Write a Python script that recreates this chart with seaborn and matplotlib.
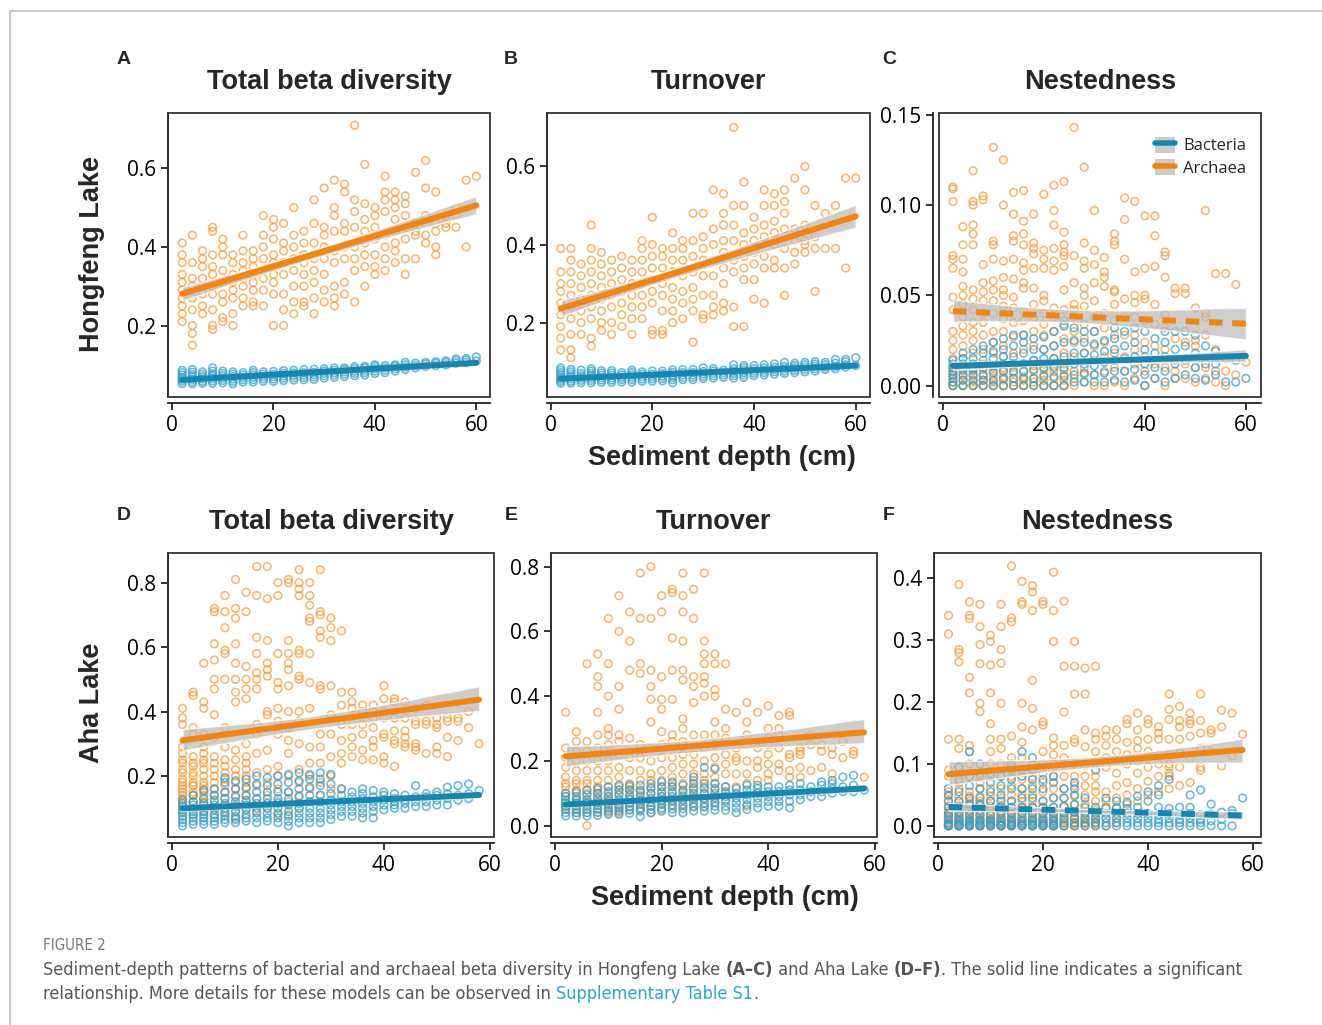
import numpy as np
import pandas as pd
import matplotlib
matplotlib.use("Agg")
import matplotlib.pyplot as plt
import seaborn as sns
from matplotlib.patches import Rectangle, Patch
from matplotlib.lines import Line2D
from matplotlib.ticker import FormatStrFormatter, FixedLocator

# ---------------- data ----------------
depth_hf = [2, 4, 6, 8, 10, 12, 14, 16, 18, 20, 22, 24, 26, 28, 30,
            32, 34, 36, 38, 40, 42, 44, 46, 48, 50, 52, 54, 56, 58, 60]
depth_aha = [2, 4, 6, 8, 10, 12, 14, 16, 18, 20, 22, 24, 26, 28, 30,
             32, 34, 36, 38, 40, 42, 44, 46, 48, 50, 52, 54, 56, 58]

# Hongfeng Lake, total beta diversity (x0.01)
hf_total_arch = [
    [21, 23, 25, 27, 29, 31, 33, 36, 38, 41], [15, 18, 20, 24, 27, 30, 32, 36, 43],
    [23, 25, 28, 30, 32, 35, 37, 39], [19, 20, 24, 28, 30, 33, 35, 38, 44, 45],
    [21, 22, 26, 28, 31, 34, 38, 40, 42], [20, 23, 27, 29, 31, 33, 36, 38],
    [25, 27, 30, 32, 34, 36, 39, 43], [25, 26, 29, 31, 33, 35, 37, 39],
    [25, 29, 32, 34, 37, 40, 43, 48], [20, 28, 31, 33, 36, 38, 42, 45, 47],
    [20, 24, 28, 33, 36, 39, 41, 46], [23, 26, 30, 34, 37, 40, 43, 50],
    [25, 26, 30, 33, 36, 38, 41, 44], [23, 27, 31, 34, 37, 41, 46, 52],
    [26, 29, 33, 37, 40, 43, 45, 55], [25, 27, 30, 36, 39, 44, 48, 50, 57],
    [28, 31, 37, 40, 44, 46, 54, 56], [26, 34, 37, 40, 45, 49, 52, 71],
    [30, 35, 38, 41, 44, 47, 51, 61], [33, 35, 38, 42, 45, 48, 50],
    [34, 37, 40, 43, 49, 52, 54, 58], [36, 39, 41, 44, 47, 50, 52, 54],
    [33, 37, 42, 45, 48, 51, 53], [37, 43, 44, 46, 59],
    [41, 43, 46, 48, 55, 62], [38, 40, 44, 46, 54],
    [45, 46, 48], [45, 48, 50], [40, 57], [58]]
# (x0.001)
hf_total_bact = [
    [52, 58, 63, 68, 74, 80, 86], [52, 57, 63, 69, 75, 81, 88], [53, 58, 64, 70, 76, 82],
    [53, 59, 65, 71, 77, 84, 92], [54, 60, 66, 72, 78, 84], [52, 58, 64, 70, 76, 82],
    [56, 62, 68, 74, 80], [56, 62, 68, 74, 80, 86], [58, 64, 70, 76, 82],
    [58, 64, 70, 76, 83], [60, 66, 72, 78, 85], [61, 67, 73, 79, 86],
    [62, 68, 74, 80, 88], [63, 69, 75, 81, 89], [66, 72, 78, 84, 90],
    [68, 74, 80, 86, 92], [70, 76, 82, 88, 92], [72, 78, 84, 90, 95],
    [74, 80, 86, 92, 96], [78, 84, 90, 96, 100], [80, 86, 92, 98],
    [84, 90, 96, 100], [88, 94, 100, 106], [92, 98, 104], [96, 102, 106],
    [98, 104, 108], [100, 106, 110], [104, 110, 115], [106, 112, 116], [110, 120]]

# Hongfeng Lake, turnover (x0.01)
hf_turn_arch = [
    [13, 16, 19, 22, 25, 28, 30, 33, 39], [11, 13, 17, 21, 24, 27, 30, 33, 36, 39],
    [17, 20, 23, 26, 29, 32, 35], [14, 16, 21, 24, 27, 30, 33, 36, 39, 45],
    [18, 20, 23, 26, 29, 32, 35, 38], [17, 20, 24, 27, 30, 33, 36],
    [19, 22, 25, 28, 31, 34, 37], [17, 21, 24, 27, 30, 33, 36],
    [21, 24, 27, 30, 33, 36, 39, 41], [17, 18, 25, 28, 31, 34, 37, 40, 47],
    [17, 18, 23, 27, 30, 34, 37, 39], [20, 23, 26, 29, 33, 36, 39, 43],
    [21, 25, 28, 32, 36, 39, 41], [15, 23, 26, 29, 33, 37, 41, 48],
    [21, 22, 27, 32, 36, 39, 42, 48], [22, 24, 27, 32, 36, 40, 44, 54],
    [23, 25, 30, 34, 38, 41, 45, 48, 53], [19, 24, 33, 36, 41, 45, 50, 70],
    [19, 31, 34, 37, 40, 43, 50, 56], [26, 31, 35, 38, 41, 44, 47],
    [25, 34, 37, 42, 45, 50, 54], [34, 36, 40, 43, 46, 50, 53],
    [27, 34, 39, 44, 48, 51, 54], [35, 38, 41, 44, 57],
    [38, 40, 41, 45, 54, 60], [28, 39, 42, 50], [39, 48], [39, 50], [34, 57], [57]]
# (x0.001)
hf_turn_bact = [
    [45, 50, 55, 60, 66, 72, 78, 84], [45, 50, 56, 62, 68, 74, 80], [46, 52, 58, 64, 70, 78],
    [46, 52, 58, 64, 70, 76, 82], [47, 53, 59, 65, 71, 77], [47, 53, 59, 65, 71, 77],
    [48, 54, 60, 66, 72], [48, 54, 60, 66, 72, 78], [50, 56, 62, 68, 74],
    [50, 56, 62, 68, 76], [51, 57, 63, 69, 76], [46, 54, 60, 66, 72, 79],
    [54, 60, 66, 72, 80], [54, 60, 66, 72, 80], [57, 63, 69, 75, 84],
    [58, 64, 70, 76, 82], [60, 66, 72, 78], [58, 64, 70, 76, 82, 92],
    [60, 66, 72, 78, 84, 90], [64, 70, 76, 82, 90], [66, 72, 78, 84, 92],
    [68, 74, 80, 86, 94], [70, 76, 82, 88, 98], [72, 78, 84, 90, 96],
    [74, 80, 86, 92, 98], [76, 82, 88, 94, 100], [80, 86, 92, 98],
    [82, 88, 96, 106], [86, 92, 100, 106], [90, 110]]

# Hongfeng Lake, nestedness (x0.001)
hf_nest_arch = [
    [0, 0, 2, 5, 7, 10, 15, 20, 25, 30, 42, 49, 65, 70, 72, 102, 109, 110],
    [0, 0, 3, 5, 8, 10, 15, 22, 28, 33, 38, 45, 50, 55, 63, 70, 78, 88],
    [0, 0, 2, 5, 8, 10, 18, 25, 30, 35, 42, 48, 53, 78, 84, 89, 100, 102, 119],
    [0, 0, 3, 5, 9, 12, 20, 28, 35, 40, 47, 52, 57, 67, 103, 105],
    [0, 0, 2, 5, 8, 10, 18, 24, 30, 40, 47, 53, 58, 70, 78, 80, 132],
    [0, 0, 3, 5, 8, 10, 16, 22, 30, 37, 44, 50, 53, 60, 69, 100, 125],
    [0, 0, 2, 4, 7, 10, 18, 27, 35, 43, 49, 59, 70, 80, 83, 95, 107],
    [0, 0, 3, 5, 8, 12, 20, 28, 36, 41, 54, 57, 64, 68, 78, 84, 91, 108],
    [0, 2, 4, 8, 11, 14, 22, 30, 38, 45, 54, 65, 73, 76, 79, 95],
    [0, 0, 3, 6, 9, 12, 20, 28, 34, 40, 47, 50, 65, 70, 75, 106],
    [0, 0, 4, 8, 11, 15, 22, 30, 38, 43, 64, 69, 76, 89, 97, 111],
    [0, 0, 3, 6, 9, 12, 18, 26, 34, 42, 53, 66, 72, 74, 78, 85, 113],
    [0, 4, 8, 16, 24, 30, 38, 42, 45, 57, 72, 143],
    [2, 6, 10, 18, 26, 34, 44, 50, 54, 65, 69, 79, 121],
    [0, 6, 14, 22, 30, 38, 47, 57, 67, 75, 97],
    [0, 8, 16, 24, 32, 40, 55, 60, 63, 71],
    [2, 10, 18, 28, 36, 45, 52, 53, 78, 80, 84],
    [0, 8, 16, 28, 38, 48, 70, 92, 104],
    [4, 12, 20, 28, 38, 46, 50, 63, 102],
    [0, 8, 16, 24, 36, 48, 50, 65, 94],
    [4, 12, 22, 34, 45, 66, 83, 94],
    [0, 10, 20, 32, 39, 60, 72, 74],
    [4, 8, 14, 26, 51, 54], [4, 12, 24, 51, 54], [2, 10, 22, 25, 43],
    [4, 10, 28, 38, 40, 97], [2, 8, 20, 62], [0, 8, 62], [6, 56], [13]]
hf_nest_bact = [
    [0, 2, 4, 6, 8, 10, 12, 14], [0, 3, 6, 9, 12, 15, 18], [0, 3, 6, 9, 12, 15, 20],
    [0, 3, 6, 10, 14, 18, 22], [0, 3, 7, 11, 15, 19, 24], [0, 4, 8, 12, 16, 20, 26],
    [0, 4, 8, 12, 16, 22, 28], [0, 4, 8, 12, 18, 24, 28], [0, 4, 9, 14, 20, 26],
    [0, 5, 10, 15, 20, 27], [0, 5, 10, 15, 22, 30], [0, 5, 10, 16, 24, 33, 36],
    [2, 6, 12, 18, 25, 32], [2, 7, 12, 18, 24, 30], [2, 6, 11, 17, 23, 30],
    [2, 7, 13, 19, 25], [3, 8, 14, 20, 26, 32], [2, 8, 15, 22, 30],
    [3, 9, 16, 24, 32], [0, 6, 12, 20, 30], [4, 10, 18, 26], [2, 8, 16, 24, 30],
    [4, 12, 20, 30], [6, 14, 22, 30], [4, 10, 18, 28], [3, 12, 22],
    [6, 12, 19], [2, 15], [2, 14], [4]]

# Aha Lake, total beta diversity (x0.01)
aha_total_arch = [
    [9, 11, 12, 13, 14, 15, 16, 17, 18, 19, 21, 22, 24, 25, 27, 29, 36, 38, 41],
    [8, 10, 12, 14, 14, 15, 17, 17, 18, 20, 21, 23, 24, 26, 33, 35, 45, 46],
    [9, 11, 12, 13, 14, 15, 16, 17, 18, 20, 22, 24, 25, 27, 29, 33, 41, 43, 55],
    [8, 10, 12, 14, 16, 18, 20, 22, 24, 26, 32, 39, 47, 50, 56, 61, 71, 72],
    [9, 11, 13, 15, 17, 19, 21, 23, 25, 29, 35, 50, 58, 59, 66, 71, 76],
    [7, 9, 11, 14, 16, 18, 20, 22, 25, 28, 43, 46, 50, 55, 61, 69, 72, 81],
    [10, 12, 14, 16, 18, 20, 22, 24, 26, 30, 44, 47, 50, 54, 71, 77],
    [9, 13, 17, 21, 27, 33, 36, 47, 50, 52, 58, 63, 76, 85],
    [10, 14, 18, 22, 28, 39, 40, 51, 53, 55, 62, 75, 85],
    [8, 12, 16, 20, 23, 33, 37, 41, 47, 49, 58, 76, 80],
    [8, 12, 15, 20, 27, 31, 35, 40, 48, 53, 55, 58, 62, 80, 81],
    [10, 14, 18, 22, 30, 37, 40, 50, 51, 58, 59, 76, 78, 80, 84],
    [12, 16, 20, 24, 29, 41, 49, 58, 68, 69, 73, 76, 80],
    [14, 18, 24, 29, 33, 48, 47, 63, 65, 70, 71, 84],
    [16, 20, 26, 33, 39, 48, 62, 66, 69], [16, 24, 27, 31, 36, 42, 46, 65],
    [26, 29, 32, 36, 41, 43, 46], [25, 28, 33, 36, 40, 42],
    [25, 29, 31, 35, 38, 40, 42], [24, 26, 32, 33, 38, 40, 44, 48],
    [23, 30, 31, 34, 38, 43, 44], [29, 30, 32, 34, 38, 43], [28, 29, 30, 36, 37, 41],
    [27, 36, 37, 42], [27, 29, 35, 36, 38], [26, 32, 37, 38], [31, 37, 38], [35, 40], [30]]
# (x0.001)
aha_total_bact = [
    [45, 55, 65, 75, 85, 95, 105, 115, 125], [50, 60, 70, 80, 90, 100, 110, 120, 140],
    [50, 60, 70, 80, 90, 100, 115, 130, 155], [50, 60, 70, 80, 95, 110, 125, 140, 160],
    [55, 65, 75, 85, 100, 115, 130, 150, 180, 195], [55, 65, 75, 90, 105, 120, 135, 160, 185],
    [60, 70, 80, 95, 110, 125, 140, 165, 190], [55, 70, 85, 100, 115, 130, 150, 175, 200],
    [60, 70, 85, 100, 115, 130, 150, 170, 195], [55, 70, 85, 100, 115, 130, 150, 175, 200],
    [45, 60, 75, 90, 110, 130, 150, 180, 205], [55, 70, 85, 100, 115, 135, 160, 185, 210],
    [55, 70, 85, 100, 120, 140, 165, 190, 205], [55, 70, 85, 100, 120, 140, 170, 190, 210],
    [65, 80, 95, 110, 125, 145, 175, 205], [75, 90, 105, 120, 140, 160],
    [75, 90, 105, 120, 135, 150], [70, 85, 100, 115, 130, 145, 160],
    [70, 90, 105, 120, 135, 155], [95, 110, 125, 140, 150], [100, 110, 120, 130, 145],
    [100, 115, 125, 140], [105, 120, 135, 170], [105, 120, 135, 145],
    [110, 125, 140, 150], [110, 130, 145, 165], [125, 140, 170], [130, 145, 175], [155]]

# Aha Lake, turnover (x0.01)
aha_turn_arch = [
    [5, 6, 7, 9, 10, 12, 13, 15, 18, 21, 24, 35],
    [4, 5, 7, 8, 10, 11, 13, 14, 17, 20, 23, 26, 29],
    [0, 4, 5, 7, 8, 10, 11, 13, 14, 17, 20, 23, 26, 50],
    [4, 5, 7, 8, 10, 11, 12, 14, 17, 20, 24, 28, 35, 43, 46, 53],
    [4, 5, 7, 8, 9, 10, 12, 14, 17, 20, 25, 28, 30, 40, 50, 64],
    [4, 5, 6, 8, 10, 11, 12, 15, 18, 22, 26, 28, 36, 43, 60, 71],
    [5, 6, 8, 9, 11, 12, 13, 17, 21, 27, 48, 57, 66],
    [5, 7, 8, 10, 11, 14, 17, 21, 25, 47, 50, 64, 78],
    [4, 6, 8, 10, 12, 14, 16, 20, 24, 32, 39, 43, 48, 64, 80],
    [5, 7, 9, 10, 12, 14, 17, 21, 25, 29, 36, 39, 46, 66, 71],
    [6, 8, 10, 12, 13, 15, 18, 21, 26, 28, 39, 48, 58, 72, 73],
    [6, 8, 10, 11, 13, 16, 19, 22, 26, 30, 33, 45, 48, 57, 66, 71, 78],
    [6, 8, 9, 11, 12, 14, 16, 19, 22, 28, 38, 43, 46, 64, 73],
    [6, 8, 10, 12, 14, 16, 20, 24, 28, 40, 44, 46, 50, 53, 57, 78],
    [7, 9, 11, 13, 15, 18, 21, 25, 28, 32, 40, 42, 50, 53],
    [8, 10, 12, 16, 19, 22, 27, 30, 36, 50],
    [12, 16, 20, 21, 24, 35], [6, 13, 16, 20, 25, 28, 32, 38], [14, 18, 20, 24, 35],
    [14, 16, 19, 22, 25, 27, 30, 37], [17, 19, 24, 28, 30, 34], [15, 17, 21, 22, 34, 35],
    [15, 18, 22, 23, 24], [17, 25, 28], [18, 23, 25], [16, 22, 24], [21, 26], [22, 23], [15]]
# (x0.001)
aha_turn_bact = [
    [30, 40, 50, 60, 70, 80, 90, 100], [30, 40, 50, 60, 70, 80, 90, 105],
    [30, 40, 50, 60, 70, 80, 95, 110], [32, 42, 52, 62, 72, 85, 100, 115],
    [35, 45, 55, 65, 75, 90, 105, 120], [35, 45, 55, 65, 80, 95, 110, 125],
    [38, 48, 58, 70, 82, 95, 110, 125], [28, 45, 55, 65, 78, 92, 108, 125],
    [40, 50, 60, 72, 85, 100, 115, 130], [45, 55, 65, 78, 90, 105, 120, 135],
    [40, 52, 64, 76, 90, 105, 120, 135], [40, 52, 65, 78, 92, 108, 125],
    [45, 58, 70, 85, 100, 115, 130, 150], [45, 58, 70, 85, 100, 115, 130, 180],
    [48, 60, 72, 85, 100, 115, 130, 175], [48, 60, 75, 90, 105, 120],
    [40, 55, 70, 85, 100, 115], [50, 65, 80, 95, 110, 125], [55, 70, 85, 100, 115, 125],
    [60, 75, 90, 105, 120], [60, 75, 90, 105, 120], [55, 75, 95, 110, 125],
    [80, 95, 110, 130], [90, 105, 120], [90, 105, 125, 135], [100, 115, 130, 140],
    [105, 120, 150], [105, 125, 155], [110]]

# Aha Lake, nestedness (x0.001)
aha_nest_arch = [
    [0, 0, 2, 5, 8, 12, 16, 20, 24, 32, 40, 48, 55, 80, 90, 140, 310, 340],
    [0, 0, 2, 5, 8, 12, 16, 20, 24, 32, 40, 48, 60, 70, 95, 125, 140, 265, 280, 285, 390],
    [0, 0, 2, 5, 8, 12, 16, 20, 24, 32, 40, 48, 55, 80, 100, 120, 130, 215, 240, 335, 340, 362],
    [0, 0, 2, 5, 8, 12, 16, 20, 24, 32, 40, 48, 60, 70, 80, 185, 198, 262, 293, 322, 358],
    [0, 0, 2, 5, 8, 12, 16, 20, 24, 32, 40, 48, 60, 80, 100, 120, 140, 165, 215, 260, 298, 308],
    [0, 0, 2, 5, 8, 12, 16, 20, 24, 32, 45, 60, 80, 100, 125, 140, 198, 263, 285, 322, 358],
    [0, 0, 3, 6, 10, 15, 20, 25, 30, 40, 50, 65, 80, 95, 110, 145, 330, 336, 420],
    [0, 0, 4, 8, 10, 15, 20, 30, 40, 50, 60, 75, 90, 110, 135, 160, 198, 358, 362, 395],
    [0, 0, 4, 8, 10, 15, 20, 30, 40, 50, 65, 80, 100, 155, 190, 235, 348, 378, 388],
    [0, 0, 4, 8, 10, 15, 20, 30, 40, 55, 70, 85, 100, 120, 163, 168, 358, 363],
    [0, 0, 4, 8, 10, 15, 20, 30, 45, 60, 80, 100, 115, 130, 142, 298, 348, 410],
    [0, 0, 4, 8, 10, 15, 20, 30, 45, 60, 80, 100, 110, 130, 184, 258, 363],
    [0, 3, 6, 10, 16, 22, 34, 48, 65, 80, 100, 135, 140, 213, 258, 298],
    [0, 3, 6, 10, 16, 22, 35, 50, 65, 80, 98, 128, 155, 213, 255],
    [0, 3, 6, 10, 16, 25, 40, 55, 65, 80, 100, 120, 140, 150, 258],
    [0, 12, 28, 40, 55, 95, 110, 130, 145, 155],
    [5, 12, 28, 45, 65, 85, 105, 120, 140, 155],
    [35, 50, 70, 100, 115, 135, 165, 172],
    [40, 60, 85, 105, 125, 138, 155, 182],
    [50, 72, 95, 110, 120, 140, 165, 172],
    [55, 80, 100, 115, 140, 150, 160],
    [60, 80, 85, 95, 100, 115, 140, 172, 188, 213],
    [65, 95, 118, 140, 160, 170, 193],
    [70, 110, 145, 165, 170, 182], [90, 95, 125, 150, 170, 213],
    [120, 150, 155], [97, 160, 187], [113, 182], [148]]
aha_nest_bact = [
    [0, 0, 2, 5, 10, 15, 20, 30, 40, 50, 60],
    [0, 0, 2, 5, 8, 10, 15, 22, 30, 40, 55, 75, 95],
    [0, 0, 2, 5, 8, 10, 18, 25, 35, 45, 65, 80, 120],
    [0, 0, 2, 5, 8, 10, 18, 25, 35, 45, 60, 85, 100],
    [0, 0, 2, 5, 8, 10, 18, 28, 40, 55, 70, 85],
    [0, 0, 2, 5, 8, 12, 20, 30, 40, 50, 65, 80],
    [0, 0, 2, 5, 8, 12, 20, 30, 40, 60, 75, 90, 100],
    [0, 0, 2, 5, 8, 12, 20, 30, 45, 60, 80, 120],
    [0, 0, 2, 5, 8, 12, 20, 30, 45, 60, 75, 90, 110],
    [0, 0, 2, 5, 8, 12, 20, 30, 40, 60, 75],
    [0, 0, 2, 5, 8, 12, 20, 30, 45, 70, 80],
    [0, 5, 12, 20, 32, 45, 60],
    [0, 5, 12, 22, 35, 50, 60, 70], [0, 5, 12, 20, 30, 45], [0, 5, 12, 20, 30, 90],
    [0, 5, 12, 20, 30, 45], [0, 5, 12, 20, 30, 40], [0, 5, 12, 20, 28, 38],
    [0, 5, 12, 20, 30, 48], [0, 5, 12, 20, 40, 55], [0, 5, 10, 18, 30, 50, 65],
    [0, 5, 12, 20, 28, 75], [0, 5, 10, 18, 30], [0, 5, 12, 20, 30, 50],
    [0, 5, 10, 18, 58], [0, 8, 18, 35], [0, 10, 22], [0, 20, 25], [45]]

taxa = ["Bacteria", "Archaea"]
titles = ["Total beta diversity", "Turnover", "Nestedness"]
lakes = ["Hongfeng Lake", "Aha Lake"]
letters = ["A", "B", "C", "D", "E", "F"]
xticks = [0, 20, 40, 60]
yticks = [[0.2, 0.4, 0.6], [0.2, 0.4, 0.6], [0.00, 0.05, 0.10, 0.15],
          [0.2, 0.4, 0.6, 0.8], [0.0, 0.2, 0.4, 0.6, 0.8], [0.0, 0.1, 0.2, 0.3, 0.4]]
ytick_fmt = ["%.1f", "%.1f", "%.2f", "%.1f", "%.1f", "%.1f"]
# significant (solid) vs non-significant (dashed) fits: (bacteria, archaea)
significant = [(True, True), (True, True), (True, False),
               (True, True), (True, True), (False, True)]

# ---------------- style ----------------
sns.set_theme(style="white")
plt.rcParams["font.family"] = ["Open Sans", "DejaVu Sans"]

W, H = 1322, 1025
fig = plt.figure(figsize=(W / 100, H / 100), dpi=100)

C_BACT_LINE = "#1687b3"
C_BACT_PT = "#3a9fc9"
C_ARCH_LINE = "#f5840c"
C_ARCH_PT = "#f69d3e"
BAND = "#bdbdbd"


def frame(depths, groups, scale):
    assert len(depths) == len(groups)
    xs, ys = [], []
    for d, vals in zip(depths, groups):
        xs += [d] * len(vals)
        ys += [v * scale for v in vals]
    return pd.DataFrame({"depth": xs, "value": ys})


panels = [
    (depth_hf, hf_total_bact, 0.001, hf_total_arch, 0.01),
    (depth_hf, hf_turn_bact, 0.001, hf_turn_arch, 0.01),
    (depth_hf, hf_nest_bact, 0.001, hf_nest_arch, 0.001),
    (depth_aha, aha_total_bact, 0.001, aha_total_arch, 0.01),
    (depth_aha, aha_turn_bact, 0.001, aha_turn_arch, 0.01),
    (depth_aha, aha_nest_bact, 0.001, aha_nest_arch, 0.001),
]

boxes = [(168, 490, 113, 397), (547, 870, 113, 397), (939, 1261, 113, 397),
         (168, 494, 553, 837), (551, 877, 553, 837), (934, 1261, 553, 837)]
xlims = [(-0.8, 62.7), (-0.7, 62.8), (-0.75, 63.0),
         (-0.75, 60.8), (-0.75, 60.4), (-0.75, 61.5)]
ylims = [(0.018, 0.741), (0.0095, 0.737), (-0.0063, 0.151),
         (0.0106, 0.892), (-0.035, 0.842), (-0.018, 0.441)]

axes = []
for i, (l, r, t, b) in enumerate(boxes):
    ax = fig.add_axes([l / W, 1 - b / H, (r - l) / W, (b - t) / H])
    axes.append(ax)
    depths, bact, sb, arch, sa = panels[i]
    df_b = frame(depths, bact, sb)
    df_a = frame(depths, arch, sa)
    sig_b, sig_a = significant[i]
    for df, pc, lc, sig, z in [(df_a, C_ARCH_PT, C_ARCH_LINE, sig_a, 4),
                               (df_b, C_BACT_PT, C_BACT_LINE, sig_b, 5)]:
        ls = "-" if sig else (0, (2.3, 1.6))
        sns.regplot(data=df, x="depth", y="value", ax=ax, ci=95, seed=0,
                    truncate=True, color=lc,
                    scatter_kws=dict(s=30, facecolors="none", edgecolors=pc,
                                     linewidths=1.15, alpha=0.75, zorder=1),
                    line_kws=dict(color=lc, lw=4.3, ls=ls, zorder=z))
        band = ax.collections[-1]
        band.set_facecolor(BAND)
        band.set_alpha(0.75)
        band.set_zorder(3)
    ax.set_xlim(*xlims[i])
    ax.set_ylim(*ylims[i])
    ax.set_xlabel("")
    ax.set_ylabel("")
    ax.xaxis.set_major_locator(FixedLocator(xticks))
    ax.yaxis.set_major_locator(FixedLocator(yticks[i]))
    ax.yaxis.set_major_formatter(FormatStrFormatter(ytick_fmt[i]))
    for s in ["top", "right"]:
        ax.spines[s].set_visible(False)
    ax.spines["bottom"].set_position(("outward", 4.5))
    ax.spines["left"].set_position(("outward", 4.5 if i == 2 else 0))
    for s in ["left", "bottom"]:
        ax.spines[s].set_linewidth(1.3)
        ax.spines[s].set_color("#222222")
    ax.add_patch(Rectangle((0, 0), 1, 1, transform=ax.transAxes, fill=False,
                           lw=1.3, ec="#333333", clip_on=False, zorder=10))
    ax.tick_params(axis="both", direction="out", length=5, width=1.3,
                   color="#222222", labelsize=15, pad=3.5, left=True, bottom=True,
                   labelcolor="black")
    cx = (l + r) / 2
    ty = 82 if i < 3 else 522
    fig.text(cx / W, 1 - ty / H, titles[i % 3], ha="center", va="center",
             fontsize=19.5, fontweight="bold", family="Liberation Sans")
    lx, ly = [(124, 60), (511, 60), (889, 60), (124, 515), (511, 515), (889, 515)][i]
    fig.text(lx / W, 1 - ly / H, letters[i], ha="center", va="center",
             fontsize=14, fontweight="bold", family="Liberation Sans")

# legend in panel C
h_b = (Patch(facecolor="#cccccc", edgecolor="none"),
       Line2D([], [], color=C_BACT_LINE, lw=4))
h_a = (Patch(facecolor="#cccccc", edgecolor="none"),
       Line2D([], [], color=C_ARCH_LINE, lw=4))
axes[2].legend([h_b, h_a], taxa, loc="upper right", frameon=False,
               fontsize=12, handlelength=1.15, handleheight=1.1,
               handletextpad=0.5, labelspacing=0.3,
               bbox_to_anchor=(1.0, 0.97))

# row / axis labels
fig.text(92 / W, 1 - 254 / H, lakes[0], rotation=90, ha="center", va="center",
         fontsize=19.5, fontweight="bold", family="Liberation Sans")
fig.text(92 / W, 1 - 703 / H, lakes[1], rotation=90, ha="center", va="center",
         fontsize=19.5, fontweight="bold", family="Liberation Sans")
fig.text(722 / W, 1 - 458 / H, "Sediment depth (cm)", ha="center", va="center",
         fontsize=19.5, fontweight="bold", family="Liberation Sans")
fig.text(725 / W, 1 - 898 / H, "Sediment depth (cm)", ha="center", va="center",
         fontsize=19.5, fontweight="bold", family="Liberation Sans")

# page frame lines
fig.add_artist(Line2D([10 / W, 10 / W], [0, 1 - 11 / H], color="#c4c4c4", lw=1.3))
fig.add_artist(Line2D([10 / W, 1], [1 - 11 / H, 1 - 11 / H], color="#c4c4c4", lw=1.3))

# caption
cap_kw = dict(family="DejaVu Sans", fontstretch="condensed", fontsize=13)
fig.text(43 / W, 1 - 950 / H, "FIGURE 2", color="#777777", va="baseline",
         family="DejaVu Sans", fontstretch="condensed", fontsize=10.8)

fig.canvas.draw()
renderer = fig.canvas.get_renderer()


def runs(x, y, parts):
    for txt, extra in parts:
        kw = dict(cap_kw)
        kw.update(extra)
        t = fig.text(x / W, 1 - y / H, txt, va="baseline", ha="left", **kw)
        x += t.get_window_extent(renderer=renderer).width


grey = {"color": "#555555"}
bold = {"color": "#555555", "fontweight": "bold"}
link = {"color": "#27a9c6"}
runs(43, 975, [("Sediment-depth patterns of bacterial and archaeal beta diversity in Hongfeng Lake ", grey),
               ("(A\u2013C)", bold), (" and Aha Lake ", grey), ("(D\u2013F)", bold),
               (". The solid line indicates a significant", grey)])
runs(43, 999, [("relationship. More details for these models can be observed in ", grey),
               ("Supplementary Table S1", link), (".", grey)])

fig.savefig("out.png", dpi=100)
